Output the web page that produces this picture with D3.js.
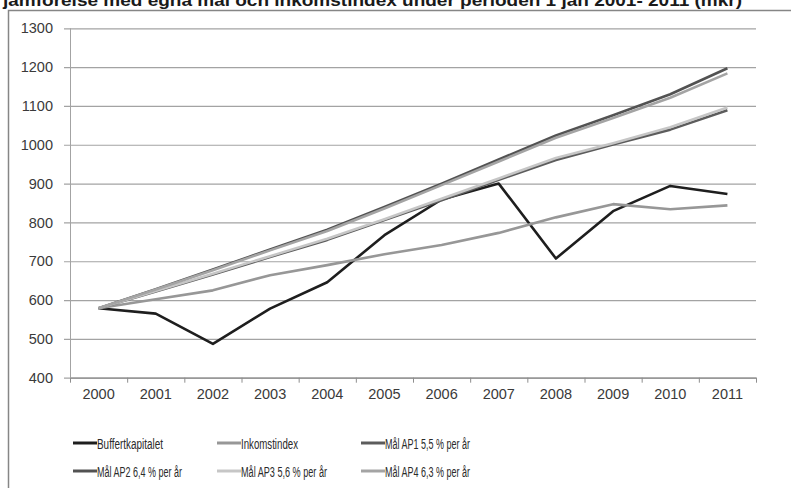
<!DOCTYPE html>
<html>
<head>
<meta charset="utf-8">
<script src="https://cdn.jsdelivr.net/npm/d3@7"></script>
<style>
  html, body { margin: 0; padding: 0; background: #fff; }
  svg { display: block; }
</style>
</head>
<body>
<svg id="chart" width="791" height="488"></svg>
<script>
// Years on the category axis
const years = [2000, 2001, 2002, 2003, 2004, 2005, 2006, 2007, 2008, 2009, 2010, 2011];

// Series values (mkr)
const buffertkapitalet = [579, 565, 487, 578, 646, 767, 859, 900, 707, 829, 894, 873];
const inkomstindex     = [579, 602, 625, 664, 690, 718, 742, 773, 813, 847, 834, 844];
const malAP1           = [579, 622, 666, 711, 755, 806, 857, 910, 961, 1001, 1039, 1089];
const malAP2           = [579, 628, 679, 730, 781, 840, 900, 962, 1024, 1076, 1130, 1197];
const malAP3           = [579, 623, 668, 713, 758, 808, 861, 913, 966, 1004, 1045, 1096];
const malAP4           = [579, 627, 677, 728, 778, 836, 896, 957, 1018, 1069, 1121, 1184];

// Value axis ticks
const yTicks = [400, 500, 600, 700, 800, 900, 1000, 1100, 1200, 1300];

const seriesNames  = ["Buffertkapitalet", "Inkomstindex", "Mål AP1 5,5 % per år",
                      "Mål AP2 6,4 % per år", "Mål AP3 5,6 % per år", "Mål AP4 6,3 % per år"];
const seriesValues = [buffertkapitalet, inkomstindex, malAP1, malAP2, malAP3, malAP4];
const seriesColors = ["#1e1e1e", "#979797", "#5c5c5c", "#525252", "#c6c6c6", "#a4a4a4"];

const svg = d3.select("#chart");

// Plot area
const plotLeft = 70, plotRight = 756, plotTop = 28.3, plotBottom = 377.7;

const x = d3.scaleBand().domain(years).range([plotLeft, plotRight]);
const y = d3.scaleLinear().domain([400, 1300]).range([plotBottom, plotTop]);
const cx = d => x(d) + x.bandwidth() / 2;

// Outer frame (left and top edges)
svg.append("path")
  .attr("d", "M8.5,488 L8.5,10.5 L791,10.5")
  .attr("fill", "none")
  .attr("stroke", "#868686")
  .attr("stroke-width", 1.5);

// Title, running off the top edge of the page
svg.append("text")
  .attr("x", 3)
  .attr("y", 5.5)
  .attr("textLength", 739)
  .attr("lengthAdjust", "spacingAndGlyphs")
  .style("font-family", "'Liberation Sans Narrow', 'Arial Narrow', 'Liberation Sans', sans-serif")
  .style("font-weight", "bold")
  .style("font-size", "16px")
  .attr("fill", "#1a1a1a")
  .text("jämförelse med egna mål och inkomstindex under perioden 1 jan 2001- 2011 (mkr)");

// Value axis with gridlines
const yAxis = svg.append("g")
  .attr("transform", `translate(${plotLeft},0)`)
  .call(d3.axisLeft(y)
    .tickValues(yTicks)
    .tickFormat(d3.format("d"))
    .tickSizeInner(-(plotRight - plotLeft))
    .tickSizeOuter(0)
    .tickPadding(17));
yAxis.select(".domain").remove();
yAxis.selectAll(".tick line")
  .attr("x1", -6)
  .attr("stroke", "#a3a3a3")
  .attr("stroke-width", 1.2);
yAxis.selectAll(".tick text")
  .style("font-family", "'Liberation Sans', Arial, sans-serif")
  .style("font-size", "14.5px")
  .attr("fill", "#3a3a3a");

// Vertical axis line
svg.append("line")
  .attr("x1", plotLeft + 0.5).attr("x2", plotLeft + 0.5)
  .attr("y1", plotTop).attr("y2", plotBottom)
  .attr("stroke", "#a3a3a3").attr("stroke-width", 1);

// Category axis
const xAxis = svg.append("g")
  .attr("transform", `translate(0,${plotBottom})`)
  .call(d3.axisBottom(x).tickSize(0).tickPadding(11));
xAxis.select(".domain").attr("stroke", "#8e8e8e").attr("stroke-width", 1.2);
xAxis.selectAll(".tick text")
  .style("font-family", "'Liberation Sans', Arial, sans-serif")
  .style("font-size", "14.5px")
  .attr("fill", "#3a3a3a");

// Tick marks between categories
const boundaries = years.map(d => x(d)).concat([plotRight]);
svg.append("g").selectAll("line")
  .data(boundaries)
  .join("line")
  .attr("x1", d => d + 0.5).attr("x2", d => d + 0.5)
  .attr("y1", plotBottom).attr("y2", plotBottom + 5)
  .attr("stroke", "#8e8e8e").attr("stroke-width", 1);

// Series lines
const line = d3.line()
  .x((d, i) => cx(years[i]))
  .y(d => y(d));

svg.append("g").selectAll("path")
  .data(seriesValues)
  .join("path")
  .attr("d", d => line(d))
  .attr("fill", "none")
  .attr("stroke", (d, i) => seriesColors[i])
  .attr("stroke-width", 2.6)
  .attr("stroke-linejoin", "round");

// Legend
const legendCols = [73, 217, 361];
const legendRows = [443, 471];
const legendWidths = [66, 57, 85, 85, 86, 85];

const legend = svg.append("g").selectAll("g")
  .data(seriesNames)
  .join("g")
  .attr("transform", (d, i) => `translate(${legendCols[i % 3]},${legendRows[Math.floor(i / 3)]})`);

legend.append("line")
  .attr("x1", 0).attr("x2", 24)
  .attr("y1", 0).attr("y2", 0)
  .attr("stroke", (d, i) => seriesColors[i])
  .attr("stroke-width", 3);

legend.append("text")
  .attr("x", 24)
  .attr("y", 6)
  .attr("textLength", (d, i) => legendWidths[i])
  .attr("lengthAdjust", "spacingAndGlyphs")
  .style("font-family", "'Liberation Sans Narrow', 'Arial Narrow', 'Liberation Sans', sans-serif")
  .style("font-size", "15.5px")
  .attr("fill", "#2a2a2a")
  .text(d => d);
</script>
</body>
</html>
